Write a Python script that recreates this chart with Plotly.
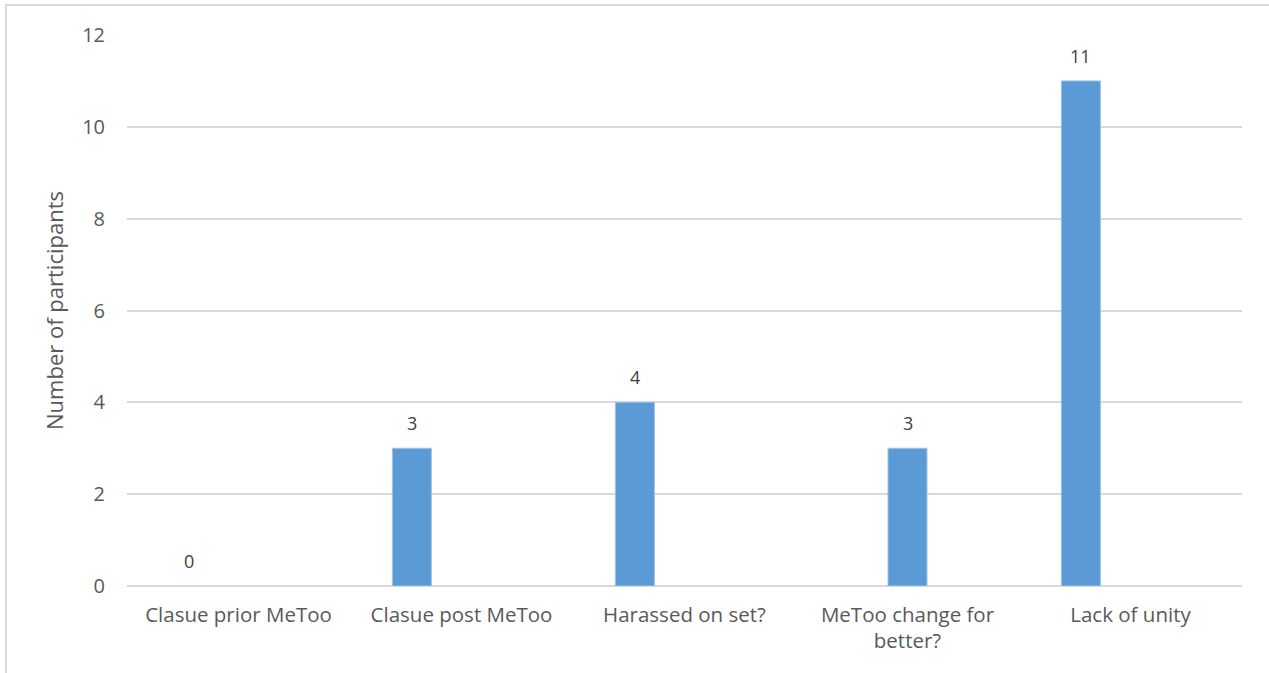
import plotly.graph_objects as go

categories = ["Clasue prior MeToo", "Clasue post MeToo", "Harassed on set?",
              "MeToo change for better?", "Lack of unity"]
tick_labels = ["Clasue prior MeToo", "Clasue post MeToo", "Harassed on set?",
               "MeToo change for<br>better?", "Lack of unity"]
values = [0, 3, 4, 3, 11]
y_ticks = [0, 2, 4, 6, 8, 10, 12]

FONT = "Open Sans, Noto Sans, sans-serif"
TXT = "#595959"
GRID = "#d9d9d9"

# per-bar horizontal placement within category (style, in category units)
BAR_W = 0.175
bar_offsets = [-0.31, -0.31, -0.31, -0.0875, -0.31]

fig = go.Figure()
fig.add_trace(go.Bar(
    x=categories, y=values,
    width=BAR_W, offset=bar_offsets,
    marker=dict(color="#5b9bd5",
                line=dict(color="#9dc3e6", width=[0 if v == 0 else 1 for v in values])),
    showlegend=False, hoverinfo="x+y",
))

PX_PER_CAT = 1115 / 5
for c, v, off in zip(categories, values, bar_offsets):
    fig.add_annotation(x=c, y=v, text=str(v), showarrow=False,
                       xanchor="center", yanchor="bottom",
                       xshift=(off + BAR_W / 2) * PX_PER_CAT, yshift=11,
                       font=dict(family=FONT, size=18, color="#404040"))

fig.add_shape(type="rect", xref="paper", yref="paper",
              x0=-0.1085, x1=1.3, y0=-0.4, y1=1.0544,
              line=dict(color=GRID, width=2), fillcolor="rgba(0,0,0,0)", layer="below")

fig.update_layout(
    width=1269, height=673,
    margin=dict(l=127, r=27, t=35, b=87),
    paper_bgcolor="white", plot_bgcolor="white",
    font=dict(family=FONT, size=18, color=TXT),
    xaxis=dict(
        type="category", categoryorder="array", categoryarray=categories,
        tickmode="array", tickvals=categories, ticktext=tick_labels,
        showgrid=False, showline=False, ticks="", zeroline=False,
        ticklabelstandoff=14,
        tickfont=dict(family=FONT, size=20.5, color=TXT),
    ),
    yaxis=dict(
        range=[0, 12], tickvals=y_ticks, showgrid=True, gridcolor=GRID, gridwidth=1.5,
        zeroline=True, zerolinecolor=GRID, zerolinewidth=1.5,
        showline=False, ticks="", ticklabelstandoff=21,
        tickfont=dict(family=FONT, size=20, color=TXT),
        title=dict(text="Number of participants", standoff=12,
                   font=dict(family=FONT, size=22, color=TXT)),
    ),
)

fig.write_html("out.html")
